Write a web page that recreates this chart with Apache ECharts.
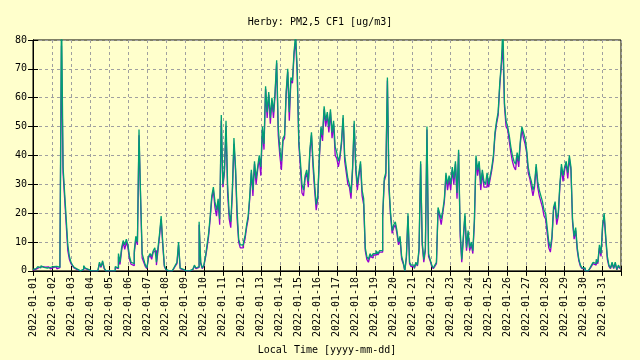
<!DOCTYPE html>
<html>
<head>
<meta charset="utf-8">
<script src="https://cdn.jsdelivr.net/npm/echarts@6/dist/echarts.min.js"></script>
<style>html,body{margin:0;padding:0;background:#ffffcc;}#c{width:640px;height:360px;}</style>
</head>
<body>
<div id="c"></div>
<script>
// Day tick labels
const dayLabels = ["2022-01-01","2022-01-02","2022-01-03","2022-01-04","2022-01-05","2022-01-06","2022-01-07","2022-01-08","2022-01-09","2022-01-10","2022-01-11","2022-01-12","2022-01-13","2022-01-14","2022-01-15","2022-01-16","2022-01-17","2022-01-18","2022-01-19","2022-01-20","2022-01-21","2022-01-22","2022-01-23","2022-01-24","2022-01-25","2022-01-26","2022-01-27","2022-01-28","2022-01-29","2022-01-30","2022-01-31"];
// 2-hourly samples (12 per day), sensor A (purple)
const pmA = [
0.3,0.6,1,1.2,0.7,1.5,1,1.3,0.7,1.4,1,0.7,
1.2,1,1.4,0.7,1.1,1.8,78,34,25,16,7,4,
2.5,1.7,1,0.4,0.2,0,0,0.4,1.5,0.8,0.4,0,
0,0,0,0,0,0.4,2.5,1.2,3,0.8,0,0,
0.2,0,0.4,0,1.2,0.8,5,2.2,7,10,7.5,10,
8,4,2.3,1.8,6,11,9,47,25,4.5,3,1.5,
0.8,4.5,5.5,4,6.5,7,2,7,12,18,9,1.5,
0.4,0,0,0,0,0.8,1.7,2.5,9,0.8,0.4,0,
0,0,0,0,0.4,0.8,1.7,0.8,1.2,16,2.5,0.8,
1.7,4.5,8,12,18,25,28,22,19,24,16,52,
29,34,50,27,18,15,27,44,35,18,10,8,
8,9,11,15,18,25,34,26,37,30,35,39,
33,49,42,63,53,61,51,59,53,61,72,47,
40,35,45,46,61,69,52,66,65,75,80,68,
44,36,27,26,32,34,29,41,47,36,28,21,
25,39,49,45,56,50,54,48,55,46,51,40,
39,36,39,44,53,38,34,30,29,25,35,51,
35,28,33,37,26,23,7,4,3,5,4.5,5.5,
5.5,6.5,5.5,6.5,6.5,18,31,33,66,28,19,13,
15,16,13,9,11,4,2.5,0,4.5,19,2.5,1.5,
1.5,0.8,2.5,1.7,7,37,9,3,7,49,5,3.5,
1.6,0.8,1.6,2.5,21,19,16,20,24,33,28,32,
28,35,30,37,25,41,12,3,11,19,7,13,
7,9,6,17,39,33,37,28,34,29,29,33,
29,32,35,39,47,51,54,64,71,78,57,50,
49,45,41,38,36,35,40,36,44,49,46,44,
41,34,32,29,26,29,36,29,26,24,22,19,
18,13,8,6.5,11,21,23,16,19,29,36,31,
35,37,32,39,35,17,11,14,7,3.5,1.6,0.8,
0.8,0,0,0.4,0.8,1.6,2.5,2,3.5,2.5,8,5,
15,19,11,4,1.6,0.8,2.5,0.8,2.5,0.4,1.6,0.8
];
// 2-hourly samples (12 per day), sensor B (green)
const pmB = [
0.5,0.8,1.2,1.5,1,1.8,1.2,1.5,1,1.6,1.2,1,
1.5,1.2,1.6,1,1.3,2,92,36,27,18,9,5,
3,2,1.2,0.6,0.3,0,0,0.5,1.8,1,0.5,0,
0,0,0,0,0,0.5,3,1.5,3.5,1,0,0,
0.3,0,0.5,0,1.5,1,6,3,8,10.5,9,11,
9,5,3,2.5,7,12,10,49,26,6,4,2,
1,5,6,5,7,8,3,8,13,19,10,2,
0.5,0,0,0,0,1,2,3,10,1,0.5,0,
0,0,0,0,0.5,1,2,1,1.5,17,3,1,
2,5,9,13,19,26,29,24,21,25,18,54,
30,35,52,30,20,17,28,46,36,21,11,9,
9,10,12,16,19,26,35,28,38,32,36,40,
36,50,44,64,55,62,53,60,55,62,73,50,
42,38,46,47,62,70,55,67,66,76,82,70,
45,38,30,28,33,35,31,42,48,38,30,23,
26,40,50,47,57,52,55,50,56,48,52,43,
41,38,40,45,54,40,36,32,30,27,36,52,
36,30,34,38,28,25,8,5,4,6,5,6,
6,7,6,7,7,19,32,34,67,30,20,14,
16,17,14,10,12,5,3,0,5,20,3,2,
2,1,3,2,8,38,10,4,8,50,6,4,
2,1,2,3,22,20,18,21,25,34,30,33,
30,36,32,38,27,42,14,4,12,20,8,14,
8,10,7,18,40,35,38,30,35,31,30,34,
30,33,36,40,48,52,55,65,72,85,58,52,
50,47,43,40,38,37,41,38,45,50,48,46,
42,36,33,31,28,30,37,31,28,26,24,21,
20,15,10,8,12,22,24,18,20,30,37,33,
36,38,34,40,36,18,12,15,8,4,2,1,
1,0,0,0.5,1,2,3,2.5,4,3,9,6,
16,20,12,5,2,1,3,1,3,0.5,2,1
];
const samplesPerDay = 12;
const toPairs = arr => arr.map((v, i) => [i / samplesPerDay, v]);
const mono = 'DejaVu Sans Mono';
const xMax = 30.97;
const chart = echarts.init(document.getElementById('c'), null, {renderer: 'canvas'});
const gridLine = {show: true, lineStyle: {color: '#a0a0a0', type: [3, 3], width: 1}};
chart.setOption({
  animation: false,
  backgroundColor: '#ffffcc',
  title: {
    text: 'Herby: PM2,5 CF1 [ug/m3]', left: 'center', top: 12,
    textStyle: {fontFamily: mono, fontSize: 10, fontWeight: 'normal', color: '#000'}
  },
  grid: {left: 33, right: 19, top: 40, bottom: 88, show: true, borderColor: '#000', borderWidth: 1, backgroundColor: 'transparent'},
  xAxis: [{
    type: 'value', min: 0, max: xMax, interval: 1,
    name: 'Local Time [yyyy-mm-dd]', nameLocation: 'middle', nameGap: 74,
    nameTextStyle: {fontFamily: mono, fontSize: 10, color: '#000'},
    axisLine: {show: true, lineStyle: {color: '#000'}},
    axisTick: {show: true, inside: true, length: 5, lineStyle: {color: '#000'}},
    axisLabel: {rotate: 90, margin: 6, fontFamily: mono, fontSize: 10, color: '#000',
      formatter: v => (Number.isInteger(v) && dayLabels[v]) ? dayLabels[v] : ''},
    splitLine: gridLine
  }, {
    type: 'value', position: 'top', min: 0, max: xMax, interval: 1,
    axisLine: {show: true, lineStyle: {color: '#000'}},
    axisTick: {show: true, inside: true, length: 5, lineStyle: {color: '#000'}},
    axisLabel: {show: false}, splitLine: {show: false}
  }],
  yAxis: [{
    type: 'value', min: 0, max: 80, interval: 10,
    axisLine: {show: true, lineStyle: {color: '#000'}},
    axisTick: {show: true, inside: true, length: 5, lineStyle: {color: '#000'}},
    axisLabel: {margin: 6, fontFamily: mono, fontSize: 10, color: '#000'},
    splitLine: gridLine
  }, {
    type: 'value', position: 'right', min: 0, max: 80, interval: 10,
    axisLine: {show: true, lineStyle: {color: '#000'}},
    axisTick: {show: true, inside: true, length: 5, lineStyle: {color: '#000'}},
    axisLabel: {show: false}, splitLine: {show: false}
  }],
  series: [{
    name: 'A', type: 'line', step: 'end', showSymbol: false, clip: true,
    data: toPairs(pmA), lineStyle: {color: '#9400d3', width: 1.3}, itemStyle: {color: '#9400d3'}
  }, {
    name: 'B', type: 'line', step: 'end', showSymbol: false, clip: true,
    data: toPairs(pmB), lineStyle: {color: '#009e73', width: 1.3}, itemStyle: {color: '#009e73'}
  }]
});
</script>
</body>
</html>
